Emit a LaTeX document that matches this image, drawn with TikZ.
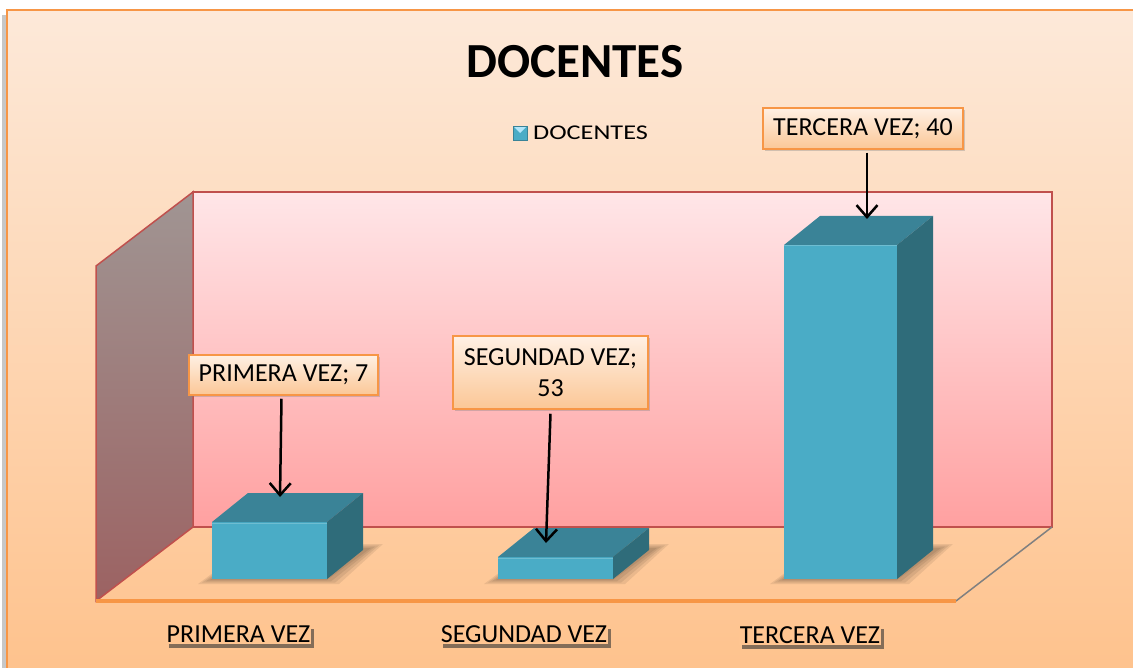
\documentclass[tikz,border=0pt]{standalone}
\usepackage{fontspec}
\setmainfont{Carlito}
\usetikzlibrary{arrows.meta,shadows}
\definecolor{bgtop}{HTML}{FDE9D9}
\definecolor{bgbot}{HTML}{FEC28C}
\definecolor{frameor}{HTML}{F79646}
\definecolor{walltop}{HTML}{FFE6E8}
\definecolor{wallbot}{HTML}{FFA0A0}
\definecolor{wallline}{HTML}{C0504D}
\definecolor{sidetop}{HTML}{A09593}
\definecolor{sidebot}{HTML}{9C6262}
\definecolor{barfront}{HTML}{4AACC6}
\definecolor{bartop}{HTML}{3A8397}
\definecolor{barside}{HTML}{2F6C7A}
\definecolor{lbltop}{HTML}{FFF0E4}
\definecolor{lblbot}{HTML}{FBC796}
\definecolor{catfill}{HTML}{FFC591}
\newcommand\drawbar[3]{% x, top y, width
  \foreach \e in {0,4,8,12}{
    \fill[black,opacity=0.08] (#1-2-\e,580+\e/3) -- (#1+#3+\e,580+\e/3) -- (#1+#3+44+\e,548-\e/3) -- (#1+40,548-\e/3) -- cycle;
  }
  \fill[barfront] (#1,#2) rectangle (#1+#3,579);
  \fill[bartop] (#1,#2) -- (#1+36,#2-29) -- (#1+#3+36,#2-29) -- (#1+#3,#2) -- cycle;
  \fill[barside] (#1+#3,#2) -- (#1+#3+36,#2-29) -- (#1+#3+36,550) -- (#1+#3,579) -- cycle;
  \draw[barfront!80!white,line width=1pt] (#1,#2+1) -- (#1+#3,#2+1);
}
\tikzset{
  lbl/.style={draw=frameor,line width=1.5pt,top color=lbltop,bottom color=lblbot,
    drop shadow={shadow xshift=2pt,shadow yshift=-2pt,opacity=0.35},
    font=\fontsize{26}{31}\selectfont,align=center,inner sep=2pt},
  cat/.style={fill=catfill,inner sep=1pt,font=\fontsize{26}{30}\selectfont,
    drop shadow={shadow xshift=3pt,shadow yshift=-4pt,opacity=0.6,fill=black!80}},
  arr/.style={line width=2.5pt,-{Straight Barb[length=12pt,width=21pt]}}
}
\begin{document}
\begin{tikzpicture}[x=1pt,y=-1pt]
\useasboundingbox (0,0) rectangle (1133,668);
\fill[white] (0,0) rectangle (1133,668);
% frame
\fill[black!22] (2,15) rectangle (8,680);
\shade[top color=bgtop,bottom color=bgbot] (7,10) rectangle (1145,680);
\draw[frameor,line width=2pt] (7,680) -- (7,10) -- (1145,10);
% back wall
\shade[top color=walltop,bottom color=wallbot] (193,192) rectangle (1052,527);
\draw[wallline,line width=1.5pt] (193,192) rectangle (1052,527);
% left wall
\shade[top color=sidetop,bottom color=sidebot] (96,266) -- (193,192) -- (193,527) -- (96,601) -- cycle;
\draw[wallline,line width=1.5pt] (96,601) -- (96,266) -- (193,192) -- (193,527) -- cycle;
% floor
\draw[gray,line width=1.5pt] (956,601) -- (1052,527);
\draw[frameor,line width=4pt] (96,601) -- (956,601);
% bars
\drawbar{212}{522}{115}
\drawbar{498}{557}{115}
\drawbar{784}{245}{113}
\coordinate (t1) at (280,497);
\coordinate (t2) at (546,543);
\coordinate (t3) at (867,219);
% title and legend
\node[font=\fontsize{49}{55}\selectfont\bfseries] (title) at (575,62) {DOCENTES};
\fill[barfront] (513,126) rectangle (527,140);
\fill[cyan!30!white] (514,127) -- (526,127) -- (520,133) -- cycle;
\draw[bartop,line width=0.6pt] (513,126) rectangle (527,140);
\node[anchor=west,inner sep=0pt,font=\fontsize{21}{25}\selectfont] (leg) at (533,133) {\scalebox{1.25}[1]{DOCENTES}};
% data labels
\node[lbl,minimum width=189pt,minimum height=40pt] (l1) at (283.5,375) {PRIMERA VEZ; 7};
\node[lbl,minimum width=195pt,minimum height=73pt] (l2) at (550.5,372.5) {SEGUNDAD VEZ;\\53};
\node[lbl,minimum width=200pt,minimum height=41pt] (l3) at (863,128.5) {TERCERA VEZ; 40};
\draw[arr] ([yshift=-3pt,xshift=-2pt]l1.south) -- (t1);
\draw[arr] ([yshift=-4pt]l2.south) -- (t2);
\draw[arr] ([yshift=-3pt,xshift=4pt]l3.south) -- (t3);
% categories
\node[cat] (c1) at (238.5,634.5) {PRIMERA VEZ};
\node[cat] (c2) at (524,634.5) {SEGUNDAD VEZ};
\node[cat] (c3) at (810,635) {TERCERA VEZ};
\end{tikzpicture}
\end{document}
